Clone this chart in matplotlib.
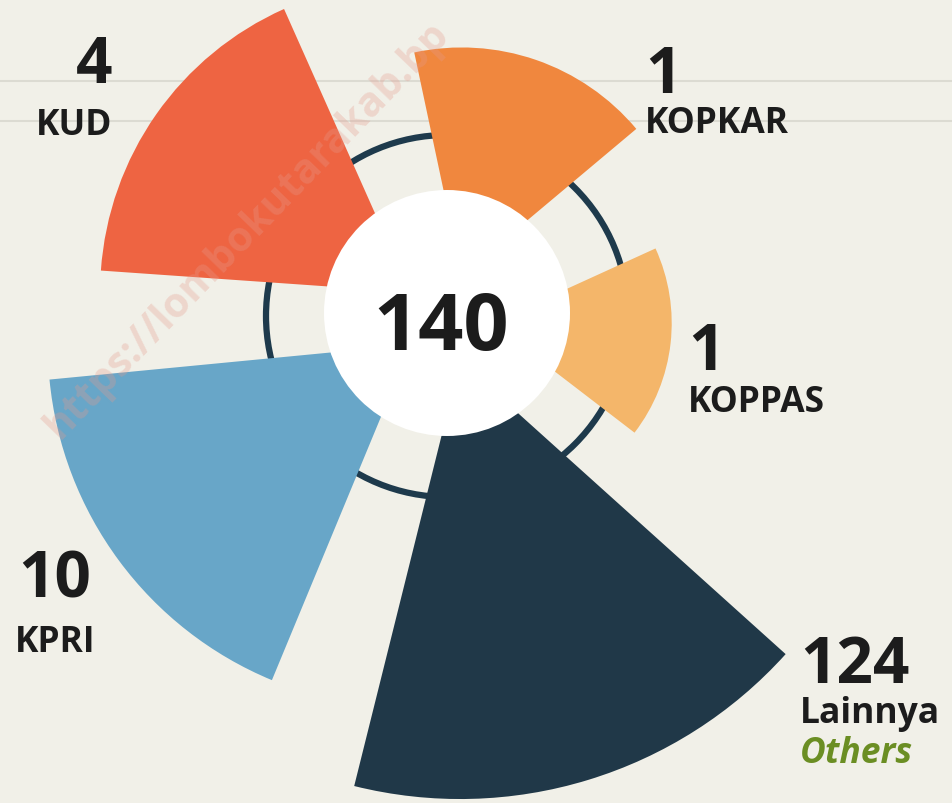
import matplotlib.pyplot as plt
from matplotlib.patches import Wedge, Circle
import numpy as np

# Data: cooperative types
categories = ['KOPKAR', 'KUD', 'KPRI', 'Lainnya', 'KOPPAS']
counts = [1, 4, 10, 124, 1]
total = sum(counts)

# Layout of the rose chart (pixels)
mid_angle = [71, 145, 216.5, 287, 353.5]
radius = [228, 310, 363, 438, 180]
span = 62
explode = 45
colors = ['#f0873e', '#ee6442', '#68a6c8', '#203848', '#f4b66a']

# label anchor: x, align, number baseline, name baseline
label_pos = {
    'KOPKAR': (645, 'left', 93, 133),
    'KUD': (112, 'right', 83, 135),
    'KPRI': (55, 'center', 598, 652),
    'Lainnya': (800, 'left', 683, 723),
    'KOPPAS': (688, 'left', 370, 412),
}

cx, cy = 447, -319
bg = '#f1f0e8'
txt = '#1c1c1c'

plt.rcParams['font.family'] = ['Open Sans', 'DejaVu Sans']

fig = plt.figure(figsize=(9.53, 8.04), dpi=100, facecolor=bg)
ax = fig.add_axes([0, 0, 1, 1])
ax.set_xlim(0, 953)
ax.set_ylim(-804, 0)
ax.set_aspect('equal')
ax.axis('off')

# faint background lines
for y in [82, 122]:
    ax.axhline(-y, color='#dcdbd2', lw=1.5, zorder=0)

# ring behind the wedges
ax.add_patch(Circle((cx, cy + 2), 181, fill=False, ec='#1e3a4c', lw=4.5, zorder=1))

for cat, m, r, c in zip(categories, mid_angle, radius, colors):
    a = np.deg2rad(m)
    center = (cx + explode * np.cos(a), cy + explode * np.sin(a))
    ax.add_patch(Wedge(center, r, m - span / 2, m + span / 2, color=c, lw=0, zorder=2))

# white hub with total
ax.add_patch(Circle((cx, cy + 5), 123, color='white', lw=0, zorder=3))
ax.text(441, -350, str(total), ha='center', va='baseline', fontsize=57,
        fontweight='bold', color=txt, zorder=4)

for cat, n in zip(categories, counts):
    x, ha, yn, yl = label_pos[cat]
    ax.text(x, -yn, str(n), ha=ha, va='baseline', fontsize=46,
            fontweight='bold', color=txt, zorder=4)
    ax.text(x, -yl, cat, ha=ha, va='baseline', fontsize=25.5,
            fontweight='bold', color=txt, zorder=4)

ax.text(800, -763, 'Others', ha='left', va='baseline', fontsize=25.5,
        fontweight='bold', fontstyle='italic', color='#6b8e23', zorder=4)

# watermark (only the part visible in the frame)
ax.text(60, -440, 'https://lombokutarakab.bp', rotation=46,
        rotation_mode='anchor', ha='left', va='baseline', fontsize=29.5,
        fontweight='bold', color='#e59a8c', alpha=0.3, zorder=5)

plt.savefig('out.png', dpi=100, facecolor=bg)
